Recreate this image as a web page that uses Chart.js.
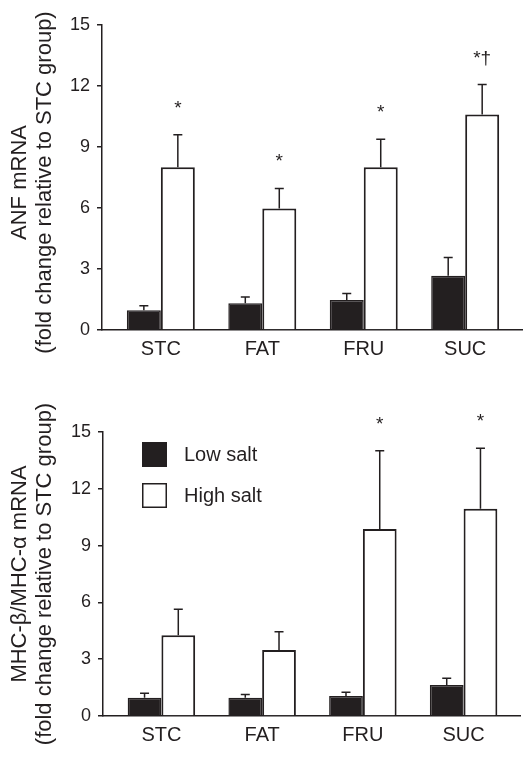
<!DOCTYPE html>
<html>
<head>
<meta charset="utf-8">
<script src="https://cdn.jsdelivr.net/npm/chart.js@4"></script>
<style>
  html, body { margin: 0; padding: 0; background: #fff; }
  .panel { position: relative; width: 531px; height: 381px; }
</style>
</head>
<body>
<div class="panel"><canvas id="chartANF"></canvas></div>
<div class="panel"><canvas id="chartMHC"></canvas></div>
<script>
// groups and y ticks shared by both panels
const groups = ['STC', 'FAT', 'FRU', 'SUC'];
const seriesNames = ['Low salt', 'High salt'];
const yTicks = [0, 3, 6, 9, 12, 15];

// ANF mRNA (top panel), mean and SEM
const anfLow = [0.97, 1.32, 1.48, 2.67];
const anfLowErr = [0.22, 0.30, 0.32, 0.89];
const anfHigh = [8.0, 5.97, 8.0, 10.6];
const anfHighErr = [1.6, 0.99, 1.38, 1.47];
const anfMarks = ['*', '*', '*', '*\u2020'];

// MHC-beta/MHC-alpha mRNA (bottom panel)
const mhcLow = [0.97, 0.97, 1.06, 1.64];
const mhcLowErr = [0.23, 0.17, 0.19, 0.35];
const mhcHigh = [4.27, 3.48, 9.88, 10.94];
const mhcHighErr = [1.37, 0.97, 4.13, 3.2];
const mhcMarks = ['', '', '*', '*'];

const ink = '#231f20';
const fontFam = "'Liberation Sans', Arial, Helvetica, sans-serif";
Chart.defaults.font.family = fontFam;
Chart.defaults.color = ink;

// error bars (upper half only) + significance marks
const errorBars = {
  id: 'errorBars',
  afterDatasetsDraw(chart) {
    const ctx = chart.ctx;
    const yScale = chart.scales.y;
    ctx.save();
    ctx.strokeStyle = ink;
    ctx.lineWidth = 1.5;
    chart.data.datasets.forEach((ds, d) => {
      const meta = chart.getDatasetMeta(d);
      meta.data.forEach((el, j) => {
        const top = yScale.getPixelForValue(ds.data[j].y + ds.errors[j]);
        ctx.beginPath();
        ctx.moveTo(el.x, el.y);
        ctx.lineTo(el.x, top);
        ctx.moveTo(el.x - 4.5, top);
        ctx.lineTo(el.x + 4.5, top);
        ctx.stroke();
        if (ds.marks && ds.marks[j]) {
          ctx.fillStyle = ink;
          ctx.font = '19px ' + fontFam;
          ctx.textAlign = 'center';
          ctx.textBaseline = 'alphabetic';
          ctx.fillText(ds.marks[j], el.x, top - 21);
        }
      });
    });
    ctx.restore();
  }
};

// two-line rotated y title
const yTitle = {
  id: 'yTitle',
  afterDraw(chart, args, opts) {
    const ctx = chart.ctx;
    const area = chart.chartArea;
    const cy = (area.top + area.bottom) / 2 + (opts.shift || 0);
    ctx.save();
    ctx.fillStyle = ink;
    ctx.textAlign = 'center';
    ctx.textBaseline = 'alphabetic';
    opts.lines.forEach((line, i) => {
      ctx.save();
      ctx.translate(opts.x[i], cy);
      ctx.rotate(-Math.PI / 2);
      ctx.font = opts.sizes[i] + 'px ' + fontFam;
      ctx.fillText(line, 0, 0);
      ctx.restore();
    });
    ctx.restore();
  }
};

// legend boxes inside the plot area
const boxLegend = {
  id: 'boxLegend',
  afterDraw(chart, args, opts) {
    if (!opts.show) return;
    const ctx = chart.ctx;
    const area = chart.chartArea;
    ctx.save();
    chart.data.datasets.forEach((ds, d) => {
      const x = area.left + 39;
      const y = area.top + 10 + d * 41;
      ctx.fillStyle = ds.backgroundColor;
      ctx.fillRect(x, y, 25, 25);
      ctx.strokeStyle = ink;
      ctx.lineWidth = 1.5;
      ctx.strokeRect(x + 0.75, y + 0.75, 23.5, 23.5);
      ctx.fillStyle = ink;
      ctx.font = '20px ' + fontFam;
      ctx.textAlign = 'left';
      ctx.textBaseline = 'middle';
      ctx.fillText(ds.label, x + 42, y + 13);
    });
    ctx.restore();
  }
};

function makeChart(id, low, lowErr, high, highErr, marks, title, cfg) {
  return new Chart(document.getElementById(id), {
    type: 'bar',
    data: {
      datasets: [
        { label: seriesNames[0], data: low.map((v, i) => ({ x: i, y: v })), errors: lowErr,
          backgroundColor: ink, borderColor: ink, borderWidth: 1.5 },
        { label: seriesNames[1], data: high.map((v, i) => ({ x: i, y: v })), errors: highErr, marks: marks,
          backgroundColor: '#ffffff', borderColor: ink, borderWidth: 2 }
      ]
    },
    options: {
      responsive: true,
      maintainAspectRatio: false,
      animation: false,
      categoryPercentage: 0.67,
      barPercentage: 1.0,
      layout: { padding: { top: cfg.top, right: cfg.right, bottom: 0, left: 0 } },
      plugins: {
        legend: { display: false },
        tooltip: { enabled: false },
        yTitle: { lines: title, sizes: [22, 22], x: [26, 51], shift: cfg.shift },
        boxLegend: { show: cfg.legend }
      },
      scales: {
        x: {
          type: 'linear', min: -0.58, max: 3.56, offset: false,
          afterBuildTicks: s => { s.ticks = groups.map((g, i) => ({ value: i })); },
          afterFit: s => { s.height = cfg.bottom; },
          border: { color: ink, width: 1.5 },
          grid: { display: false, drawTicks: false },
          ticks: { callback: v => groups[v], font: { size: 20 }, padding: 7, color: ink, maxRotation: 0 }
        },
        y: {
          min: 0, max: 15,
          afterBuildTicks: s => { s.ticks = yTicks.map(v => ({ value: v })); },
          afterFit: s => { s.width = cfg.left; },
          border: { color: ink, width: 1.5 },
          grid: { drawOnChartArea: false, drawTicks: true, tickLength: 5, color: ink, lineWidth: 1.5 },
          ticks: { font: { size: 18 }, padding: 7, color: ink }
        }
      }
    },
    plugins: [errorBars, yTitle, boxLegend]
  });
}

makeChart('chartANF', anfLow, anfLowErr, anfHigh, anfHighErr, anfMarks,
  ['ANF mRNA', '(fold change relative to STC group)'],
  { top: 25, right: 9, bottom: 51, left: 102, legend: false, shift: 5 });

makeChart('chartMHC', mhcLow, mhcLowErr, mhcHigh, mhcHighErr, mhcMarks,
  ['MHC-\u03b2/MHC-\u03b1 mRNA', '(fold change relative to STC group)'],
  { top: 51, right: 11, bottom: 46, left: 103, legend: true, shift: 0 });
</script>
</body>
</html>
